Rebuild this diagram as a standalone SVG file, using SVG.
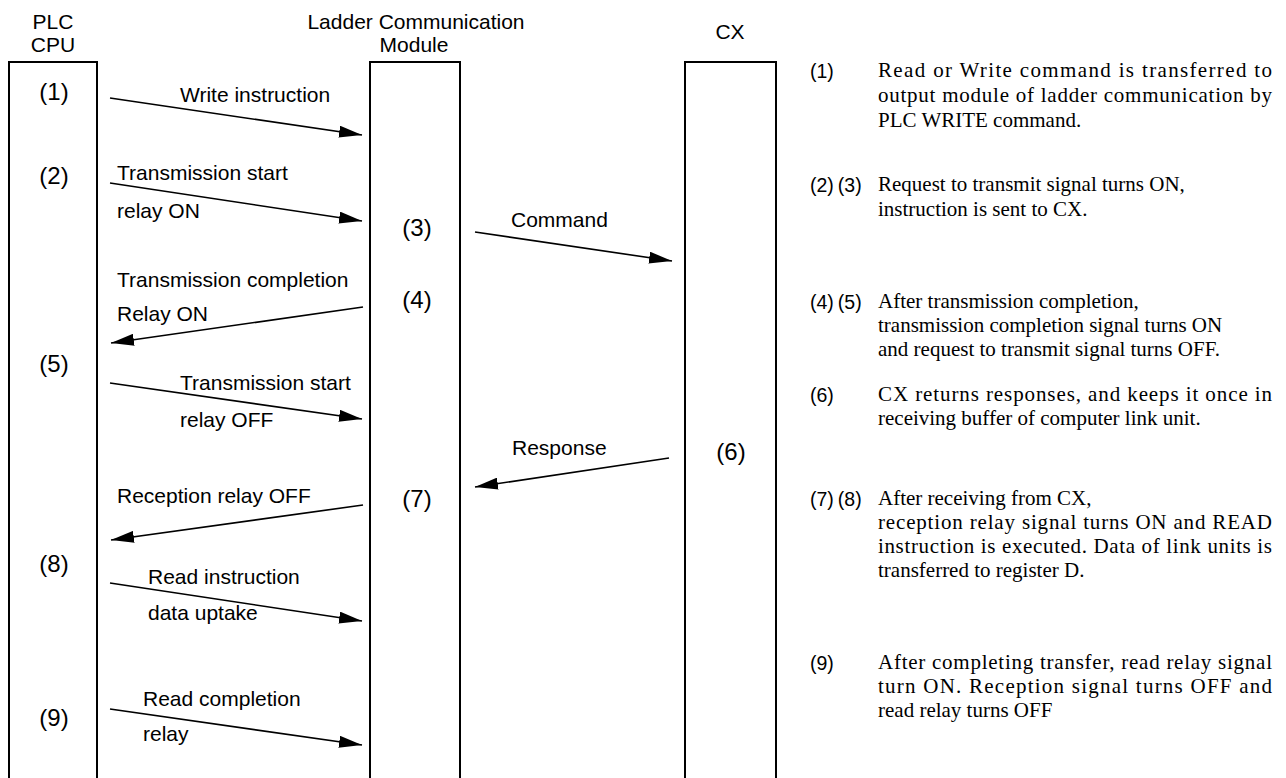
<svg xmlns="http://www.w3.org/2000/svg" width="1286" height="778" viewBox="0 0 1286 778">
  <style>
    .box { fill: none; stroke: #000; stroke-width: 2; }
    .msg { fill: none; stroke: #000; stroke-width: 1.6; marker-end: url(#head); }
    .hdr { font-family: "Liberation Sans", Arial, sans-serif; font-size: 21px; fill: #000; text-anchor: middle; }
    .lbl { font-family: "Liberation Sans", Arial, sans-serif; font-size: 21px; fill: #000; }
    .num { font-family: "Liberation Sans", Arial, sans-serif; font-size: 24px; fill: #000; text-anchor: middle; }
    .rnum { font-family: "Liberation Sans", Arial, sans-serif; font-size: 19.5px; fill: #000; }
    .note { font-family: "Liberation Serif", "Times New Roman", serif; font-size: 21px; fill: #000; }
  </style>
  <defs>
    <marker id="head" markerUnits="userSpaceOnUse" markerWidth="23" markerHeight="12" refX="23" refY="6" orient="auto">
      <path d="M0,0 L23,6 L0,12 z" fill="#000"/>
    </marker>
  </defs>

  <!-- Lifeline: PLC CPU -->
  <g id="plc">
    <text class="hdr" x="53" y="29">PLC</text>
    <text class="hdr" x="53" y="52">CPU</text>
    <path class="box" d="M9,790 V62 H97 V790"/>
    <text class="num" x="54" y="100">(1)</text>
    <text class="num" x="54" y="184">(2)</text>
    <text class="num" x="54" y="372">(5)</text>
    <text class="num" x="54" y="572">(8)</text>
    <text class="num" x="54" y="726">(9)</text>
  </g>

  <!-- Lifeline: Ladder Communication Module -->
  <g id="ladder">
    <text class="hdr" x="416" y="29">Ladder Communication</text>
    <text class="hdr" x="414" y="52">Module</text>
    <path class="box" d="M370,790 V62 H460 V790"/>
    <text class="num" x="417" y="236">(3)</text>
    <text class="num" x="417" y="308">(4)</text>
    <text class="num" x="417" y="507">(7)</text>
  </g>

  <!-- Lifeline: CX -->
  <g id="cx">
    <text class="hdr" x="730" y="39">CX</text>
    <path class="box" d="M685,790 V62 H776 V790"/>
    <text class="num" x="731" y="460">(6)</text>
  </g>

  <!-- Messages -->
  <g id="connectors">
    <line class="msg" x1="110" y1="98" x2="362" y2="135"/>
    <line class="msg" x1="110" y1="183" x2="362" y2="221"/>
    <line class="msg" x1="475" y1="232" x2="672" y2="261"/>
    <line class="msg" x1="363" y1="307" x2="111" y2="343"/>
    <line class="msg" x1="110" y1="383" x2="362" y2="419"/>
    <line class="msg" x1="669" y1="458" x2="475" y2="487"/>
    <line class="msg" x1="363" y1="505" x2="111" y2="540"/>
    <line class="msg" x1="110" y1="583" x2="362" y2="621"/>
    <line class="msg" x1="110" y1="709" x2="362" y2="745"/>
  </g>

  <!-- Message labels -->
  <g id="labels">
    <text class="lbl" x="180" y="102">Write instruction</text>
    <text class="lbl" x="117" y="180">Transmission start</text>
    <text class="lbl" x="117" y="218">relay ON</text>
    <text class="lbl" x="511" y="227">Command</text>
    <text class="lbl" x="117" y="287">Transmission completion</text>
    <text class="lbl" x="117" y="321">Relay ON</text>
    <text class="lbl" x="180" y="390">Transmission start</text>
    <text class="lbl" x="180" y="427">relay OFF</text>
    <text class="lbl" x="512" y="455">Response</text>
    <text class="lbl" x="117" y="503">Reception relay OFF</text>
    <text class="lbl" x="148" y="584">Read instruction</text>
    <text class="lbl" x="148" y="620">data uptake</text>
    <text class="lbl" x="143" y="706">Read completion</text>
    <text class="lbl" x="143" y="741">relay</text>
  </g>

  <!-- Step descriptions -->
  <g id="notes">
    <text class="rnum" x="810" y="78">(1)</text>
    <text class="note" x="878" y="77" textLength="394" lengthAdjust="spacing">Read or Write command is transferred to</text>
    <text class="note" x="878" y="102" textLength="394" lengthAdjust="spacing">output module of ladder communication by</text>
    <text class="note" x="878" y="127">PLC WRITE command.</text>

    <text class="rnum" x="810" y="192">(2)<tspan dx="4">(3)</tspan></text>
    <text class="note" x="878" y="191">Request to transmit signal turns ON,</text>
    <text class="note" x="878" y="216">instruction is sent to CX.</text>

    <text class="rnum" x="810" y="309">(4)<tspan dx="4">(5)</tspan></text>
    <text class="note" x="878" y="308">After transmission completion,</text>
    <text class="note" x="878" y="332">transmission completion signal turns ON</text>
    <text class="note" x="878" y="356">and request to transmit signal turns OFF.</text>

    <text class="rnum" x="810" y="402">(6)</text>
    <text class="note" x="878" y="401" textLength="394" lengthAdjust="spacing">CX returns responses, and keeps it once in</text>
    <text class="note" x="878" y="425">receiving buffer of computer link unit.</text>

    <text class="rnum" x="810" y="506">(7)<tspan dx="4">(8)</tspan></text>
    <text class="note" x="878" y="505">After receiving from CX,</text>
    <text class="note" x="878" y="529" textLength="394" lengthAdjust="spacing">reception relay signal turns ON and READ</text>
    <text class="note" x="878" y="553" textLength="394" lengthAdjust="spacing">instruction is executed. Data of link units is</text>
    <text class="note" x="878" y="577">transferred to register D.</text>

    <text class="rnum" x="810" y="670">(9)</text>
    <text class="note" x="878" y="669" textLength="394" lengthAdjust="spacing">After completing transfer, read relay signal</text>
    <text class="note" x="878" y="693" textLength="394" lengthAdjust="spacing">turn ON. Reception signal turns OFF and</text>
    <text class="note" x="878" y="717">read relay turns OFF</text>
  </g>
</svg>
